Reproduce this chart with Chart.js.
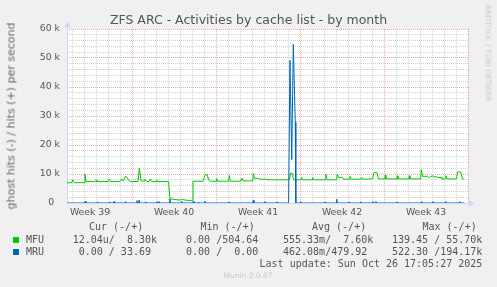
<!DOCTYPE html>
<html>
<head>
<meta charset="utf-8">
<title>ZFS ARC - Activities by cache list - by month</title>
<script src="https://cdn.jsdelivr.net/npm/chart.js@4.4.1/dist/chart.umd.min.js"></script>
<style>
  body { margin: 0; background: #f0f0f0; }
  #wrap { position: relative; width: 497px; height: 287px; overflow: hidden; font-family: "DejaVu Sans", sans-serif; color: #666; }
  #chart { position: absolute; left: 0; top: 0; }
  .t { position: absolute; white-space: pre; }
  .mono { font-family: "DejaVu Sans Mono", monospace; font-size: 10px; line-height: 12px; color: #555; }
  .sq { position: absolute; width: 6px; height: 6px; }
</style>
</head>
<body>
<div id="wrap">
  <canvas id="chart" width="497" height="287"></canvas>
  <div class="t" id="title" style="left:248.5px; top:12px; transform:translateX(-50%); font-size:12.5px; line-height:15px; color:#555;">ZFS ARC - Activities by cache list - by month</div>
  <div class="t" style="left:11px; top:116px; transform:translate(-50%,-50%) rotate(-90deg); font-size:11px; line-height:13px; color:#666;">ghost hits (-) / hits (+) per second</div>
  <div class="t" style="left:488px; top:53px; transform:translate(-50%,-50%) rotate(90deg); font-size:7.5px; line-height:9px; color:#c8c8c8;">RRDTOOL / TOBI OETIKER</div>

  <div class="t mono" style="left:89px; top:221px;">Cur (-/+)</div>
  <div class="t mono" style="left:200.5px; top:221px;">Min (-/+)</div>
  <div class="t mono" style="left:312px; top:221px;">Avg (-/+)</div>
  <div class="t mono" style="left:422.5px; top:221px;">Max (-/+)</div>

  <div class="sq" style="left:13px; top:237px; background:#00cc00;"></div>
  <div class="t mono" style="left:26px; top:234px;">MFU</div>
  <div class="t mono" style="left:66.7px; top:234px;"> 12.04u/  8.30k</div>
  <div class="t mono" style="left:174px; top:234px;">  0.00 /504.64 </div>
  <div class="t mono" style="left:283px; top:234px;">555.33m/  7.60k</div>
  <div class="t mono" style="left:392px; top:234px;">139.45 / 55.70k</div>

  <div class="sq" style="left:13px; top:249px; background:#0066b3;"></div>
  <div class="t mono" style="left:26px; top:246px;">MRU</div>
  <div class="t mono" style="left:66.7px; top:246px;">  0.00 / 33.69 </div>
  <div class="t mono" style="left:174px; top:246px;">  0.00 /  0.00 </div>
  <div class="t mono" style="left:283px; top:246px;">462.08m/479.92 </div>
  <div class="t mono" style="left:392px; top:246px;">522.30 /194.17k</div>

  <div class="t mono" style="right:14.7px; top:257.5px;">Last update: Sun Oct 26 17:05:27 2025</div>
  <div class="t" style="left:248px; top:271px; transform:translateX(-50%); font-size:7.5px; line-height:10px; color:#c8c8c8;">Munin 2.0.67</div>
</div>
<script>
// x values are days counted from Mon 22 Sep 2025 00:00
const weekCenters = [3.5, 10.5, 17.5, 24.5, 31.5];
const weekLabels = ["Week 39", "Week 40", "Week 41", "Week 42", "Week 43"];
const yTickLabels = ["0  ", "10 k", "20 k", "30 k", "40 k", "50 k", "60 k"];

// [day, hits per second]
const mfuSeries = [
  [1.58, 7000], [1.96, 7000], [2.06, 8000], [2.16, 7000], [3.00, 7000], [3.08, 10000], [3.16, 7400],
  [3.91, 7400], [4.00, 7900], [4.08, 7400], [5.02, 7400], [5.11, 8200], [5.21, 7400],
  [5.96, 7400], [6.14, 8300], [6.25, 7600], [6.47, 9300], [6.83, 7400],
  [7.50, 7400], [7.61, 12100], [7.75, 7600], [8.00, 7600], [8.08, 8200], [8.21, 7400],
  [8.41, 7400], [8.52, 8200], [8.62, 7400], [9.00, 7400], [9.06, 7900], [9.16, 7400],
  [10.04, 7400], [10.16, 1500], [10.58, 1200], [11.00, 1000], [11.16, 1200], [11.50, 1000],
  [11.83, 800], [12.02, 800], [12.08, 7500],
  [12.91, 7500], [13.08, 9600], [13.25, 9900], [13.41, 7800], [13.54, 7500],
  [14.00, 7500], [14.06, 8400], [14.15, 7500], [15.04, 7500], [15.11, 9500], [15.18, 7500],
  [16.06, 7500], [16.15, 8600], [16.25, 7600], [17.06, 7600], [17.11, 10200], [17.21, 8500],
  [17.54, 8500], [17.66, 8200], [18.08, 8200], [18.33, 8000],
  [20.12, 8000], [20.22, 10300], [20.37, 10200], [20.46, 8000],
  [21.08, 8000], [21.14, 8800], [21.21, 8000], [22.00, 8000], [22.06, 8800], [22.12, 8000],
  [23.12, 8000], [23.16, 9900], [23.25, 8000], [24.04, 8000], [24.11, 10000], [24.21, 8800],
  [24.54, 8800], [24.62, 8200], [25.10, 8200], [25.16, 9200], [25.25, 8200],
  [26.08, 8200], [26.14, 8800], [26.21, 8200], [27.04, 8300], [27.16, 10500], [27.41, 10500], [27.54, 8300],
  [28.06, 8300], [28.11, 9600], [28.16, 8300], [29.06, 8300], [29.11, 9400], [29.16, 8300],
  [30.06, 8300], [30.11, 9400], [30.16, 8300], [31.06, 8300], [31.11, 11500], [31.21, 9200],
  [31.61, 9200], [31.71, 8800], [32.06, 9400], [32.16, 8800], [32.33, 9200], [32.46, 8800],
  [32.75, 8800], [32.83, 8300], [33.12, 8300], [33.16, 9400], [33.25, 8300],
  [34.04, 8300], [34.12, 10700], [34.39, 10700], [34.54, 8300], [34.70, 8300]
];

const mruSeries = [
  [1.58, 0], [3.06, 0], [3.11, 600], [3.16, 0], [4.09, 0], [4.14, 400], [4.19, 0],
  [5.11, 0], [5.16, 400], [5.21, 0], [5.45, 0], [5.50, 500], [5.55, 0],
  [6.41, 0], [6.46, 500], [6.51, 0], [7.36, 0], [7.41, 800], [7.47, 0], [7.53, 0], [7.58, 1000], [7.64, 0],
  [8.11, 0], [8.16, 400], [8.21, 0], [9.03, 0], [9.08, 500], [9.13, 0], [9.20, 0], [9.25, 400], [9.30, 0],
  [10.11, 0], [10.16, 1400], [10.22, 0], [11.09, 0], [11.14, 500], [11.19, 0],
  [12.06, 0], [12.11, 500], [12.16, 0], [12.53, 0], [12.58, 300], [12.63, 0],
  [13.03, 0], [13.08, 600], [13.13, 0], [15.03, 0], [15.08, 400], [15.13, 0],
  [17.06, 0], [17.11, 900], [17.16, 0], [18.03, 0], [18.08, 500], [18.13, 0],
  [19.03, 0], [19.08, 400], [19.13, 0],
  [20.05, 0], [20.16, 49200], [20.31, 15000], [20.44, 54700], [20.60, 28000], [20.65, 0],
  [21.01, 0], [21.06, 400], [21.11, 0], [23.03, 0], [23.08, 400], [23.13, 0],
  [24.01, 0], [24.06, 1300], [24.11, 0], [25.03, 0], [25.08, 400], [25.13, 0],
  [26.01, 0], [26.06, 400], [26.11, 0], [27.03, 0], [27.08, 500], [27.14, 0], [27.28, 0], [27.33, 500], [27.38, 0],
  [29.03, 0], [29.08, 400], [29.13, 0], [31.09, 0], [31.14, 500], [31.19, 0],
  [32.03, 0], [32.08, 500], [32.13, 0], [33.11, 0], [33.16, 500], [33.21, 0],
  [34.28, 0], [34.33, 500], [34.38, 0], [34.70, 0]
];

const AXIS = "#cfd6f8";
const MINOR = "rgba(200,200,200,0.8)";
const MAJOR = "rgba(225,110,110,0.6)";

// white canvas + the rrdtool style axis arrows
const muninFrame = {
  id: "muninFrame",
  beforeDraw(chart) {
    const { ctx, chartArea: a } = chart;
    ctx.save();
    ctx.fillStyle = "#ffffff";
    ctx.fillRect(a.left, a.top, a.right - a.left, a.bottom - a.top);
    ctx.restore();
  },
  beforeDatasetsDraw(chart) {
    const { ctx, chartArea: a } = chart;
    const x0 = Math.round(a.left) + 0.5;
    const y0 = Math.round(a.bottom) + 0.5;
    ctx.save();
    ctx.strokeStyle = AXIS;
    ctx.fillStyle = AXIS;
    ctx.lineWidth = 1;
    ctx.beginPath();
    ctx.moveTo(x0, y0);
    ctx.lineTo(x0, a.top - 3);
    ctx.moveTo(x0, y0);
    ctx.lineTo(a.right + 3, y0);
    ctx.stroke();
    ctx.beginPath();
    ctx.moveTo(x0 - 3, a.top - 2);
    ctx.lineTo(x0 + 3, a.top - 2);
    ctx.lineTo(x0, a.top - 8);
    ctx.closePath();
    ctx.fill();
    ctx.beginPath();
    ctx.moveTo(a.right + 1, y0 - 3);
    ctx.lineTo(a.right + 1, y0 + 3);
    ctx.lineTo(a.right + 7, y0);
    ctx.closePath();
    ctx.fill();
    ctx.restore();
  },
};

Chart.defaults.font.family = "DejaVu Sans";

const ctx = document.getElementById("chart").getContext("2d");
new Chart(ctx, {
  type: "line",
  data: {
    datasets: [
      {
        label: "MRU",
        data: mruSeries.map((p) => ({ x: p[0], y: p[1] })),
        borderColor: "#0066b3",
        borderWidth: 1,
        pointRadius: 0,
        tension: 0,
        order: 0,
      },
      {
        label: "MFU",
        data: mfuSeries.map((p) => ({ x: p[0], y: p[1] })),
        borderColor: "#00cc00",
        borderWidth: 1,
        pointRadius: 0,
        tension: 0,
        order: 1,
      },
    ],
  },
  options: {
    responsive: false,
    animation: false,
    layout: { padding: { left: 0, top: 29, right: 29, bottom: 0 } },
    plugins: { legend: { display: false }, tooltip: { enabled: false } },
    scales: {
      x: {
        type: "linear",
        min: 1.58,
        max: 35,
        afterFit: (s) => { s.height = 84; },
        afterBuildTicks: (s) => {
          const vals = [];
          for (let d = 2; d <= 35; d++) vals.push(d);
          weekCenters.forEach((c) => vals.push(c));
          vals.sort((a, b) => a - b);
          s.ticks = vals.map((v) => ({ value: v }));
        },
        grid: {
          drawTicks: false,
          lineWidth: 1,
          color: (c) => {
            const v = c.tick ? c.tick.value : 0;
            if (v % 7 === 0) return MAJOR;
            if (Number.isInteger(v)) return MINOR;
            return "rgba(0,0,0,0)";
          },
        },
        border: { display: false, dash: [1, 1] },
        ticks: {
          autoSkip: false,
          maxRotation: 0,
          padding: 4,
          color: "#555",
          font: { size: 9.3 },
          callback: (v) => {
            const i = weekCenters.indexOf(v);
            return i >= 0 ? weekLabels[i] : "";
          },
        },
      },
      y: {
        min: 0,
        max: 60000,
        afterFit: (s) => { s.width = 67; },
        afterBuildTicks: (s) => {
          const vals = [];
          for (let v = 0; v <= 60000; v += 2000) vals.push({ value: v });
          s.ticks = vals;
        },
        grid: {
          drawTicks: false,
          lineWidth: 1,
          color: (c) => {
            const v = c.tick ? c.tick.value : 0;
            return v % 10000 === 0 ? MAJOR : MINOR;
          },
        },
        border: { display: false, dash: [1, 1] },
        ticks: {
          autoSkip: false,
          padding: 7,
          color: "#555",
          font: { size: 9.3 },
          callback: (v) => (v % 10000 === 0 ? yTickLabels[v / 10000] : ""),
        },
      },
    },
  },
  plugins: [muninFrame],
});
</script>
</body>
</html>
